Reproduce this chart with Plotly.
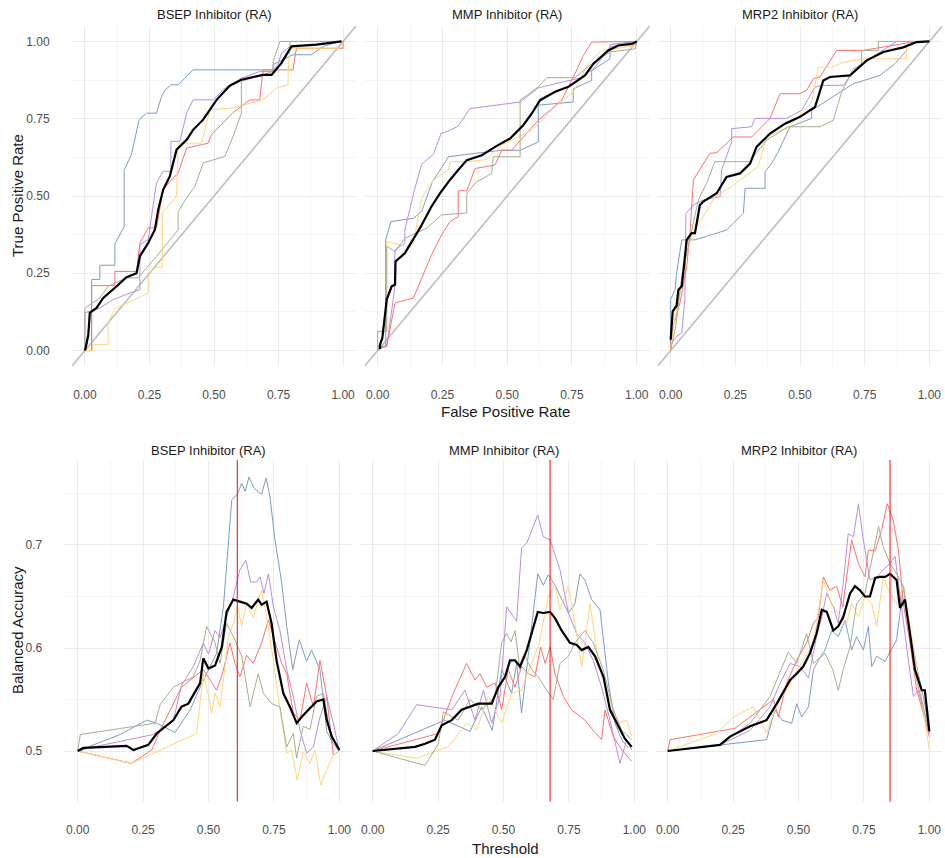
import plotly.graph_objects as go

W, H = 945, 858

panel_titles = ["BSEP Inhibitor (RA)", "MMP Inhibitor (RA)", "MRP2 Inhibitor (RA)"]
series_names = ["blue", "purple", "red", "yellow", "olive"]
series_colors = {"blue": "#7B9DC2", "purple": "#BC8BE2", "red": "#FF6F6F",
                 "yellow": "#FFD47E", "olive": "#A4B08C"}

# ---------------- ROC data (FPR, TPR) ----------------
roc_bsep = {
    "blue": ([0, 0.026, 0.026, 0.058, 0.058, 0.116, 0.116, 0.152, 0.152, 0.18, 0.21, 0.239, 0.277, 0.297, 0.31, 0.333, 0.361, 0.419, 0.729, 0.729, 0.806, 0.877, 0.923, 0.987, 1.0],
             [0, 0, 0.23, 0.23, 0.276, 0.276, 0.345, 0.40, 0.583, 0.634, 0.747, 0.768, 0.768, 0.822, 0.842, 0.86, 0.86, 0.908, 0.908, 0.925, 0.957, 0.957, 0.984, 1.0, 1.0]),
    "purple": ([0, 0, 0.058, 0.11, 0.174, 0.213, 0.213, 0.245, 0.277, 0.303, 0.333, 0.333, 0.368, 0.394, 0.419, 0.497, 0.535, 0.606, 0.677, 0.723, 0.748, 0.761, 0.794, 0.794, 1.0],
               [0, 0.122, 0.138, 0.165, 0.186, 0.197, 0.343, 0.359, 0.542, 0.58, 0.58, 0.677, 0.677, 0.768, 0.811, 0.811, 0.844, 0.881, 0.903, 0.903, 0.925, 0.962, 0.984, 1.0, 1.0]),
    "red": ([0, 0.026, 0.026, 0.116, 0.116, 0.2, 0.213, 0.245, 0.277, 0.303, 0.329, 0.361, 0.394, 0.477, 0.49, 0.574, 0.639, 0.677, 0.69, 0.806, 0.819, 1.0, 1.0],
            [0, 0, 0.21, 0.21, 0.256, 0.256, 0.348, 0.397, 0.397, 0.52, 0.547, 0.574, 0.655, 0.671, 0.698, 0.77, 0.811, 0.811, 0.908, 0.908, 0.978, 0.978, 1.0]),
    "yellow": ([0, 0.03, 0.03, 0.09, 0.09, 0.116, 0.245, 0.245, 0.277, 0.3, 0.3, 0.355, 0.361, 0.452, 0.484, 0.574, 0.639, 0.69, 0.742, 0.787, 0.787, 0.794, 0.987, 1.0],
               [0, 0, 0.019, 0.019, 0.09, 0.135, 0.186, 0.25, 0.27, 0.27, 0.445, 0.5, 0.671, 0.671, 0.779, 0.785, 0.80, 0.811, 0.849, 0.86, 0.903, 0.978, 0.978, 1.0]),
    "olive": ([0, 0, 0.058, 0.09, 0.161, 0.206, 0.277, 0.361, 0.361, 0.394, 0.426, 0.458, 0.542, 0.574, 0.606, 0.606, 0.729, 0.729, 0.755, 1.0],
              [0, 0.138, 0.17, 0.208, 0.235, 0.235, 0.305, 0.39, 0.45, 0.494, 0.531, 0.607, 0.628, 0.693, 0.768, 0.871, 0.903, 0.935, 1.0, 1.0]),
    "mean": ([0, 0.003, 0.013, 0.019, 0.045, 0.071, 0.123, 0.161, 0.2, 0.213, 0.245, 0.271, 0.284, 0.303, 0.329, 0.355, 0.394, 0.419, 0.458, 0.51, 0.561, 0.606, 0.69, 0.723, 0.761, 0.8, 0.897, 0.994],
             [0, 0.009, 0.05, 0.122, 0.138, 0.17, 0.208, 0.237, 0.25, 0.305, 0.348, 0.391, 0.456, 0.52, 0.564, 0.65, 0.682, 0.714, 0.747, 0.811, 0.857, 0.876, 0.892, 0.892, 0.93, 0.984, 0.99, 1.0]),
}

roc_mmp = {
    "blue": ([0, 0.003, 0.031, 0.031, 0.051, 0.138, 0.17, 0.211, 0.241, 0.273, 0.376, 0.479, 0.55, 0.62, 0.62, 0.755, 0.755, 0.826, 0.826, 0.897, 0.897, 1.0],
             [0, 0.014, 0.014, 0.358, 0.417, 0.428, 0.45, 0.546, 0.584, 0.627, 0.638, 0.648, 0.648, 0.675, 0.794, 0.804, 0.847, 0.874, 0.905, 0.944, 0.99, 1.0]),
    "purple": ([0, 0.015, 0.035, 0.064, 0.067, 0.105, 0.105, 0.142, 0.17, 0.215, 0.245, 0.273, 0.311, 0.356, 0.55, 0.62, 0.659, 0.788, 0.839, 0.897, 0.994, 1.0],
               [0, 0.009, 0.014, 0.19, 0.326, 0.347, 0.39, 0.52, 0.603, 0.635, 0.702, 0.71, 0.726, 0.783, 0.804, 0.85, 0.858, 0.883, 0.917, 0.982, 1.0, 1.0]),
    "red": ([0, 0.003, 0.035, 0.067, 0.138, 0.176, 0.208, 0.247, 0.279, 0.311, 0.311, 0.344, 0.376, 0.453, 0.479, 0.517, 0.569, 0.62, 0.71, 0.762, 0.794, 0.826, 1.0],
            [0, 0.005, 0.014, 0.154, 0.17, 0.245, 0.31, 0.374, 0.417, 0.433, 0.517, 0.517, 0.589, 0.60, 0.648, 0.648, 0.697, 0.745, 0.81, 0.896, 0.955, 0.998, 1.0]),
    "yellow": ([0, 0, 0.035, 0.035, 0.105, 0.138, 0.17, 0.215, 0.273, 0.279, 0.344, 0.421, 0.479, 0.595, 0.691, 0.755, 0.813, 0.865, 0.994, 1.0],
               [0, 0.062, 0.062, 0.353, 0.337, 0.347, 0.492, 0.552, 0.584, 0.611, 0.611, 0.618, 0.665, 0.713, 0.794, 0.837, 0.928, 0.971, 0.986, 1.0]),
    "olive": ([0, 0, 0.035, 0.035, 0.067, 0.105, 0.189, 0.247, 0.344, 0.344, 0.382, 0.44, 0.446, 0.55, 0.55, 0.62, 0.653, 0.762, 0.826, 0.897, 0.994, 1.0],
              [0, 0.062, 0.062, 0.337, 0.32, 0.363, 0.396, 0.439, 0.445, 0.509, 0.546, 0.573, 0.627, 0.627, 0.81, 0.853, 0.883, 0.883, 0.928, 0.966, 0.976, 1.0]),
    "mean": ([0.009, 0.009, 0.018, 0.026, 0.035, 0.054, 0.067, 0.069, 0.105, 0.163, 0.208, 0.241, 0.279, 0.311, 0.344, 0.402, 0.453, 0.511, 0.562, 0.595, 0.627, 0.685, 0.736, 0.8, 0.833, 0.89, 0.929, 0.981, 1.0],
             [0.005, 0.019, 0.04, 0.095, 0.165, 0.208, 0.213, 0.288, 0.315, 0.396, 0.466, 0.509, 0.552, 0.584, 0.616, 0.632, 0.659, 0.686, 0.729, 0.767, 0.81, 0.837, 0.853, 0.89, 0.928, 0.971, 0.987, 0.992, 1.0]),
}

roc_mrp2 = {
    "blue": ([0, 0, 0.017, 0.023, 0.043, 0.094, 0.216, 0.281, 0.288, 0.365, 0.365, 0.39, 0.416, 0.461, 0.545, 0.545, 0.616, 0.706, 0.809, 0.867, 0.912, 0.912, 1.0],
             [0, 0.165, 0.197, 0.25, 0.358, 0.358, 0.39, 0.444, 0.525, 0.525, 0.578, 0.605, 0.643, 0.724, 0.751, 0.777, 0.815, 0.863, 0.89, 0.928, 0.971, 1.0, 1.0]),
    "purple": ([0, 0.023, 0.043, 0.055, 0.059, 0.088, 0.126, 0.191, 0.197, 0.236, 0.236, 0.313, 0.326, 0.448, 0.506, 0.558, 0.59, 0.668, 0.719, 0.809, 0.874, 1.0],
               [0.02, 0.046, 0.057, 0.165, 0.444, 0.471, 0.487, 0.498, 0.584, 0.675, 0.718, 0.724, 0.751, 0.751, 0.777, 0.853, 0.858, 0.858, 0.917, 0.966, 1.0, 1.0]),
    "red": ([0, 0, 0.01, 0.036, 0.062, 0.075, 0.088, 0.152, 0.178, 0.229, 0.242, 0.313, 0.384, 0.423, 0.5, 0.526, 0.552, 0.577, 0.642, 0.745, 0.912, 0.99],
            [0, 0.02, 0.078, 0.154, 0.272, 0.38, 0.552, 0.638, 0.64, 0.681, 0.691, 0.691, 0.751, 0.831, 0.831, 0.842, 0.88, 0.885, 0.971, 0.971, 0.995, 1.0]),
    "yellow": ([0, 0.01, 0.036, 0.062, 0.088, 0.146, 0.171, 0.236, 0.268, 0.339, 0.371, 0.455, 0.506, 0.545, 0.571, 0.622, 0.668, 0.745, 0.912, 0.912, 1.0],
               [0, 0.075, 0.186, 0.315, 0.385, 0.46, 0.498, 0.53, 0.552, 0.595, 0.691, 0.724, 0.767, 0.804, 0.917, 0.917, 0.933, 0.944, 0.944, 1.0, 1.0]),
    "olive": ([0, 0.02, 0.043, 0.081, 0.107, 0.139, 0.171, 0.307, 0.32, 0.371, 0.455, 0.577, 0.629, 0.661, 0.706, 0.738, 0.738, 0.803, 0.803, 1.0],
              [0, 0.08, 0.24, 0.39, 0.487, 0.541, 0.611, 0.611, 0.627, 0.681, 0.724, 0.724, 0.745, 0.837, 0.912, 0.923, 0.971, 0.971, 1.0, 1.0]),
    "mean": ([0, 0.008, 0.023, 0.03, 0.043, 0.049, 0.062, 0.081, 0.094, 0.113, 0.126, 0.178, 0.216, 0.268, 0.307, 0.332, 0.384, 0.442, 0.5, 0.558, 0.59, 0.616, 0.693, 0.758, 0.822, 0.899, 0.951, 1.0],
             [0.035, 0.127, 0.145, 0.197, 0.208, 0.261, 0.358, 0.38, 0.38, 0.471, 0.482, 0.509, 0.562, 0.573, 0.605, 0.659, 0.702, 0.734, 0.756, 0.788, 0.874, 0.885, 0.89, 0.939, 0.966, 0.981, 0.998, 1.0]),
}

# ---------------- Balanced accuracy data (threshold, BA) ----------------
ba_bsep = {
    "blue": ([0, 0.162, 0.264, 0.302, 0.372, 0.43, 0.468, 0.5, 0.531, 0.557, 0.576, 0.589, 0.61, 0.627, 0.64, 0.655, 0.674, 0.703, 0.72, 0.735, 0.754, 0.78, 0.799, 0.822, 0.847, 0.875, 0.894, 0.926, 0.952, 0.977, 1.0],
             [0.5, 0.516, 0.53, 0.527, 0.518, 0.54, 0.562, 0.579, 0.595, 0.64, 0.705, 0.744, 0.749, 0.76, 0.752, 0.766, 0.755, 0.749, 0.765, 0.747, 0.705, 0.663, 0.621, 0.579, 0.608, 0.587, 0.598, 0.579, 0.519, 0.507, 0.5]),
    "purple": ([0, 0.06, 0.289, 0.366, 0.397, 0.442, 0.48, 0.5, 0.525, 0.544, 0.569, 0.595, 0.62, 0.643, 0.661, 0.684, 0.697, 0.712, 0.729, 0.748, 0.773, 0.799, 0.824, 0.85, 0.875, 0.901, 0.926, 0.952, 0.977, 1.0],
               [0.5, 0.504, 0.516, 0.53, 0.564, 0.582, 0.605, 0.594, 0.617, 0.61, 0.63, 0.65, 0.676, 0.685, 0.664, 0.664, 0.669, 0.653, 0.672, 0.64, 0.617, 0.579, 0.553, 0.52, 0.498, 0.504, 0.533, 0.553, 0.527, 0.5]),
    "red": ([0, 0.206, 0.283, 0.315, 0.397, 0.48, 0.531, 0.553, 0.582, 0.601, 0.62, 0.646, 0.671, 0.703, 0.729, 0.748, 0.78, 0.799, 0.824, 0.85, 0.875, 0.901, 0.926, 0.952, 0.977, 1.0],
            [0.5, 0.488, 0.501, 0.52, 0.562, 0.579, 0.559, 0.575, 0.605, 0.585, 0.572, 0.593, 0.585, 0.605, 0.627, 0.611, 0.585, 0.575, 0.537, 0.53, 0.566, 0.543, 0.588, 0.553, 0.496, 0.5]),
    "yellow": ([0, 0.206, 0.455, 0.48, 0.5, 0.512, 0.525, 0.544, 0.557, 0.576, 0.595, 0.61, 0.627, 0.646, 0.671, 0.703, 0.722, 0.748, 0.773, 0.799, 0.818, 0.839, 0.862, 0.888, 0.907, 0.929, 0.952, 0.977, 1.0],
               [0.5, 0.488, 0.517, 0.575, 0.554, 0.537, 0.556, 0.543, 0.569, 0.611, 0.624, 0.64, 0.622, 0.643, 0.63, 0.656, 0.63, 0.588, 0.54, 0.498, 0.501, 0.472, 0.499, 0.488, 0.501, 0.467, 0.482, 0.496, 0.5]),
    "olive": ([0, 0.01, 0.296, 0.315, 0.366, 0.442, 0.468, 0.493, 0.525, 0.544, 0.569, 0.595, 0.627, 0.659, 0.69, 0.71, 0.741, 0.773, 0.799, 0.824, 0.837, 0.862, 0.888, 0.913, 0.939, 0.964, 1.0],
              [0.5, 0.516, 0.527, 0.545, 0.562, 0.572, 0.588, 0.621, 0.605, 0.585, 0.624, 0.611, 0.592, 0.543, 0.575, 0.556, 0.546, 0.543, 0.504, 0.517, 0.493, 0.524, 0.521, 0.553, 0.556, 0.52, 0.5]),
    "mean": ([0, 0.022, 0.187, 0.213, 0.27, 0.302, 0.366, 0.397, 0.423, 0.468, 0.48, 0.5, 0.525, 0.551, 0.569, 0.595, 0.62, 0.646, 0.665, 0.69, 0.703, 0.722, 0.741, 0.76, 0.786, 0.811, 0.837, 0.856, 0.882, 0.913, 0.939, 0.952, 0.971, 1.0],
             [0.5, 0.503, 0.505, 0.501, 0.506, 0.517, 0.53, 0.543, 0.546, 0.566, 0.59, 0.58, 0.583, 0.601, 0.635, 0.647, 0.645, 0.643, 0.639, 0.647, 0.642, 0.645, 0.624, 0.588, 0.556, 0.543, 0.527, 0.533, 0.54, 0.548, 0.55, 0.53, 0.514, 0.501]),
}

ba_mmp = {
    "blue": ([0, 0.276, 0.372, 0.417, 0.457, 0.493, 0.531, 0.55, 0.569, 0.601, 0.631, 0.652, 0.671, 0.697, 0.722, 0.748, 0.773, 0.792, 0.811, 0.837, 0.869, 0.901, 0.926, 0.952, 0.977],
             [0.5, 0.53, 0.519, 0.543, 0.52, 0.579, 0.556, 0.585, 0.537, 0.605, 0.672, 0.661, 0.671, 0.661, 0.647, 0.634, 0.643, 0.672, 0.666, 0.647, 0.637, 0.566, 0.527, 0.511, 0.503]),
    "purple": ([0, 0.098, 0.168, 0.302, 0.353, 0.391, 0.423, 0.455, 0.487, 0.512, 0.55, 0.569, 0.589, 0.614, 0.631, 0.652, 0.678, 0.716, 0.748, 0.78, 0.811, 0.843, 0.875, 0.907, 0.945, 0.971, 0.99],
               [0.5, 0.517, 0.545, 0.54, 0.559, 0.53, 0.559, 0.527, 0.553, 0.64, 0.626, 0.697, 0.702, 0.718, 0.729, 0.708, 0.705, 0.676, 0.634, 0.614, 0.605, 0.588, 0.562, 0.53, 0.488, 0.511, 0.501]),
    "red": ([0, 0.251, 0.308, 0.359, 0.391, 0.41, 0.436, 0.468, 0.493, 0.518, 0.544, 0.569, 0.595, 0.62, 0.642, 0.659, 0.678, 0.697, 0.729, 0.76, 0.786, 0.811, 0.843, 0.875, 0.888, 0.92, 0.952, 0.99],
            [0.5, 0.517, 0.556, 0.585, 0.569, 0.575, 0.562, 0.566, 0.54, 0.579, 0.562, 0.582, 0.575, 0.572, 0.601, 0.585, 0.601, 0.575, 0.553, 0.54, 0.535, 0.53, 0.52, 0.511, 0.54, 0.514, 0.501, 0.49]),
    "yellow": ([0, 0.168, 0.289, 0.359, 0.397, 0.442, 0.493, 0.531, 0.569, 0.601, 0.633, 0.659, 0.671, 0.697, 0.716, 0.748, 0.773, 0.799, 0.831, 0.862, 0.901, 0.939, 0.971, 0.99],
               [0.5, 0.493, 0.504, 0.527, 0.52, 0.553, 0.527, 0.556, 0.559, 0.582, 0.601, 0.637, 0.65, 0.661, 0.637, 0.66, 0.624, 0.582, 0.643, 0.588, 0.553, 0.527, 0.53, 0.514]),
    "olive": ([0, 0.2, 0.251, 0.27, 0.327, 0.372, 0.417, 0.468, 0.493, 0.512, 0.529, 0.544, 0.563, 0.582, 0.608, 0.633, 0.665, 0.69, 0.716, 0.748, 0.773, 0.811, 0.843, 0.881, 0.92, 0.952, 0.99],
              [0.5, 0.486, 0.507, 0.538, 0.53, 0.55, 0.54, 0.553, 0.605, 0.614, 0.606, 0.617, 0.579, 0.592, 0.579, 0.572, 0.559, 0.55, 0.585, 0.592, 0.605, 0.617, 0.605, 0.579, 0.54, 0.52, 0.511]),
    "mean": ([0, 0.162, 0.2, 0.238, 0.264, 0.302, 0.34, 0.404, 0.455, 0.48, 0.506, 0.525, 0.544, 0.563, 0.589, 0.608, 0.631, 0.652, 0.678, 0.697, 0.722, 0.754, 0.78, 0.799, 0.824, 0.85, 0.882, 0.907, 0.939, 0.964, 0.99],
             [0.5, 0.504, 0.507, 0.511, 0.525, 0.53, 0.54, 0.546, 0.546, 0.562, 0.572, 0.588, 0.588, 0.582, 0.598, 0.614, 0.635, 0.634, 0.635, 0.629, 0.617, 0.605, 0.603, 0.598, 0.601, 0.592, 0.572, 0.54, 0.524, 0.512, 0.504]),
}

ba_mrp2 = {
    "blue": ([0, 0.378, 0.41, 0.436, 0.474, 0.493, 0.512, 0.538, 0.557, 0.576, 0.601, 0.627, 0.652, 0.678, 0.703, 0.722, 0.748, 0.767, 0.78, 0.799, 0.831, 0.875, 0.901, 0.926, 0.952, 0.977, 1.0],
             [0.5, 0.511, 0.54, 0.53, 0.527, 0.546, 0.533, 0.543, 0.579, 0.588, 0.598, 0.617, 0.611, 0.627, 0.598, 0.611, 0.598, 0.621, 0.582, 0.592, 0.587, 0.608, 0.66, 0.617, 0.582, 0.553, 0.52]),
    "purple": ([0, 0.2, 0.315, 0.391, 0.43, 0.468, 0.506, 0.538, 0.569, 0.589, 0.608, 0.633, 0.652, 0.671, 0.69, 0.71, 0.729, 0.748, 0.773, 0.799, 0.824, 0.85, 0.869, 0.894, 0.92, 0.939, 0.958, 0.977, 1.0],
               [0.5, 0.506, 0.52, 0.543, 0.566, 0.585, 0.582, 0.571, 0.611, 0.63, 0.653, 0.64, 0.624, 0.663, 0.711, 0.708, 0.74, 0.705, 0.666, 0.669, 0.676, 0.682, 0.689, 0.637, 0.588, 0.553, 0.559, 0.54, 0.52]),
    "red": ([0, 0.009, 0.257, 0.334, 0.404, 0.423, 0.455, 0.493, 0.531, 0.557, 0.576, 0.595, 0.62, 0.646, 0.669, 0.703, 0.729, 0.754, 0.767, 0.793, 0.818, 0.839, 0.862, 0.882, 0.901, 0.926, 0.952, 0.977, 1.0],
            [0.5, 0.511, 0.522, 0.537, 0.55, 0.533, 0.566, 0.588, 0.605, 0.624, 0.63, 0.669, 0.656, 0.66, 0.64, 0.705, 0.682, 0.669, 0.695, 0.694, 0.715, 0.74, 0.724, 0.695, 0.643, 0.605, 0.559, 0.537, 0.514]),
    "yellow": ([0, 0.187, 0.251, 0.327, 0.378, 0.417, 0.455, 0.48, 0.518, 0.557, 0.595, 0.627, 0.652, 0.684, 0.703, 0.729, 0.754, 0.78, 0.799, 0.824, 0.85, 0.875, 0.901, 0.933, 0.964, 1.0],
               [0.5, 0.517, 0.533, 0.543, 0.517, 0.546, 0.559, 0.572, 0.588, 0.605, 0.666, 0.643, 0.634, 0.624, 0.643, 0.63, 0.65, 0.643, 0.621, 0.669, 0.653, 0.643, 0.66, 0.611, 0.562, 0.501]),
    "olive": ([0, 0.2, 0.315, 0.391, 0.461, 0.493, 0.531, 0.557, 0.601, 0.631, 0.652, 0.671, 0.697, 0.722, 0.754, 0.78, 0.806, 0.824, 0.85, 0.875, 0.901, 0.926, 0.952, 0.977, 1.0],
              [0.5, 0.506, 0.527, 0.553, 0.596, 0.585, 0.614, 0.585, 0.595, 0.579, 0.559, 0.579, 0.601, 0.643, 0.653, 0.686, 0.718, 0.698, 0.682, 0.672, 0.66, 0.611, 0.569, 0.543, 0.517]),
    "mean": ([0, 0.2, 0.238, 0.315, 0.378, 0.417, 0.468, 0.493, 0.518, 0.544, 0.569, 0.589, 0.608, 0.633, 0.652, 0.671, 0.697, 0.716, 0.735, 0.754, 0.773, 0.793, 0.811, 0.831, 0.85, 0.875, 0.888, 0.907, 0.926, 0.945, 0.971, 0.983, 1.0],
             [0.5, 0.506, 0.514, 0.524, 0.53, 0.546, 0.569, 0.575, 0.582, 0.595, 0.614, 0.637, 0.635, 0.617, 0.621, 0.63, 0.653, 0.66, 0.656, 0.65, 0.65, 0.668, 0.669, 0.669, 0.672, 0.666, 0.639, 0.647, 0.614, 0.579, 0.559, 0.559, 0.519]),
}

roc_data = [roc_bsep, roc_mmp, roc_mrp2]
ba_data = [ba_bsep, ba_mmp, ba_mrp2]
best_thresholds = [0.61, 0.678, 0.85]

tick_vals = [0, 0.25, 0.5, 0.75, 1.0]
tick_text = ["0.00", "0.25", "0.50", "0.75", "1.00"]
ba_tick_vals = [0.5, 0.6, 0.7]
ba_tick_text = ["0.5", "0.6", "0.7"]

# ---------------- layout geometry (pixels) ----------------
top_x_px = [(72, 356), (364.7, 649.7), (657.7, 942.3)]
top_y_px = (26, 366)
bot_x_px = [(64.6, 352.4), (359.6, 647.4), (654.6, 942.4)]
bot_y_px = (460, 801.7)


def xdom(p):
    return [p[0] / W, p[1] / W]


def ydom(p):
    return [1 - p[1] / H, 1 - p[0] / H]


fig = go.Figure()
layout = {}
FONT = "Liberation Sans, Arial, sans-serif"
TICKFONT = dict(family=FONT, size=12, color="#4D4D4D")
MAJOR = "#EBEBEB"
MINOR = "#F5F5F5"

annotations = []
shapes = []

for i in range(3):
    # ---- top row ROC ----
    k = i + 1
    xa, ya = f"x{k}", f"y{k}"
    d = roc_data[i]
    fig.add_trace(go.Scatter(x=[-0.05, 1.05], y=[-0.05, 1.05], mode="lines",
                             line=dict(color="#BEBEBE", width=1.6),
                             xaxis=xa, yaxis=ya, showlegend=False, hoverinfo="skip"))
    for s in series_names:
        fig.add_trace(go.Scatter(x=d[s][0], y=d[s][1], mode="lines",
                                 line=dict(color=series_colors[s], width=1),
                                 xaxis=xa, yaxis=ya, showlegend=False))
    fig.add_trace(go.Scatter(x=d["mean"][0], y=d["mean"][1], mode="lines",
                             line=dict(color="black", width=2.2),
                             xaxis=xa, yaxis=ya, showlegend=False))
    layout[f"xaxis{k}"] = dict(domain=xdom(top_x_px[i]), range=[-0.05, 1.05], anchor=ya,
                               tickvals=tick_vals, ticktext=tick_text, tickfont=TICKFONT,
                               ticks="outside", ticklen=18, tickcolor="rgba(0,0,0,0)",
                               showgrid=True, gridcolor=MAJOR, gridwidth=1, zeroline=False,
                               showline=False,
                               minor=dict(tickvals=[0.125, 0.375, 0.625, 0.875], showgrid=True,
                                          gridcolor=MINOR, gridwidth=1, ticks=""))
    layout[f"yaxis{k}"] = dict(domain=ydom(top_y_px), range=[-0.05, 1.05], anchor=xa,
                               tickvals=tick_vals, ticktext=tick_text, tickfont=TICKFONT,
                               showticklabels=(i == 0),
                               ticks="outside" if i == 0 else "", ticklen=19,
                               tickcolor="rgba(0,0,0,0)",
                               showgrid=True, gridcolor=MAJOR, gridwidth=1, zeroline=False,
                               showline=False,
                               minor=dict(tickvals=[0.125, 0.375, 0.625, 0.875], showgrid=True,
                                          gridcolor=MINOR, gridwidth=1, ticks=""))
    cx = (top_x_px[i][0] + top_x_px[i][1]) / 2 / W
    annotations.append(dict(text=panel_titles[i], x=cx, y=1 - 14 / H, xref="paper", yref="paper",
                            showarrow=False, xanchor="center", yanchor="middle",
                            font=dict(family=FONT, size=13, color="#1A1A1A")))

    # ---- bottom row BA ----
    k = i + 4
    xa, ya = f"x{k}", f"y{k}"
    d = ba_data[i]
    for s in series_names:
        fig.add_trace(go.Scatter(x=d[s][0], y=d[s][1], mode="lines",
                                 line=dict(color=series_colors[s], width=1),
                                 xaxis=xa, yaxis=ya, showlegend=False))
    fig.add_trace(go.Scatter(x=d["mean"][0], y=d["mean"][1], mode="lines",
                             line=dict(color="black", width=2.2),
                             xaxis=xa, yaxis=ya, showlegend=False))
    layout[f"xaxis{k}"] = dict(domain=xdom(bot_x_px[i]), range=[-0.05, 1.05], anchor=ya,
                               tickvals=tick_vals, ticktext=tick_text, tickfont=TICKFONT,
                               ticks="outside", ticklen=17, tickcolor="rgba(0,0,0,0)",
                               showgrid=True, gridcolor=MAJOR, gridwidth=1, zeroline=False,
                               showline=False,
                               minor=dict(tickvals=[0.125, 0.375, 0.625, 0.875], showgrid=True,
                                          gridcolor=MINOR, gridwidth=1, ticks=""))
    layout[f"yaxis{k}"] = dict(domain=ydom(bot_y_px), range=[0.4508, 0.7825], anchor=xa,
                               tickvals=ba_tick_vals, ticktext=ba_tick_text, tickfont=TICKFONT,
                               showticklabels=(i == 0),
                               ticks="outside" if i == 0 else "", ticklen=19,
                               tickcolor="rgba(0,0,0,0)",
                               showgrid=True, gridcolor=MAJOR, gridwidth=1, zeroline=False,
                               showline=False,
                               minor=dict(tickvals=[0.45, 0.55, 0.65, 0.75], showgrid=True,
                                          gridcolor=MINOR, gridwidth=1, ticks=""))
    vcol = "red" if i < 2 else "rgba(255,0,0,0.5)"
    vw = 1 if i < 2 else 2
    shapes.append(dict(type="line", xref=xa, yref=f"{ya} domain", x0=best_thresholds[i],
                       x1=best_thresholds[i], y0=0, y1=1, layer="above",
                       line=dict(color=vcol, width=vw)))
    cx = (bot_x_px[i][0] + bot_x_px[i][1]) / 2 / W
    annotations.append(dict(text=panel_titles[i], x=cx, y=1 - 450 / H, xref="paper", yref="paper",
                            showarrow=False, xanchor="center", yanchor="middle",
                            font=dict(family=FONT, size=13, color="#1A1A1A")))

TITLEFONT = dict(family=FONT, size=15, color="#1A1A1A")
annotations += [
    dict(text="True Positive Rate", x=17 / W, y=1 - 196 / H, textangle=-90, font=TITLEFONT),
    dict(text="False Positive Rate", x=505 / W, y=1 - 412 / H, font=TITLEFONT),
    dict(text="Balanced Accuracy", x=17 / W, y=1 - 630 / H, textangle=-90, font=TITLEFONT),
    dict(text="Threshold", x=505 / W, y=1 - 848 / H, font=TITLEFONT),
]
for a in annotations[-4:]:
    a.update(xref="paper", yref="paper", showarrow=False, xanchor="center", yanchor="middle")

fig.update_layout(width=W, height=H, margin=dict(l=0, r=0, t=0, b=0),
                  paper_bgcolor="white", plot_bgcolor="white",
                  annotations=annotations, shapes=shapes, **layout)

fig.write_html("out.html", config={"displayModeBar": False},
               post_script="document.body.style.margin='0';document.body.style.overflow='hidden';")
